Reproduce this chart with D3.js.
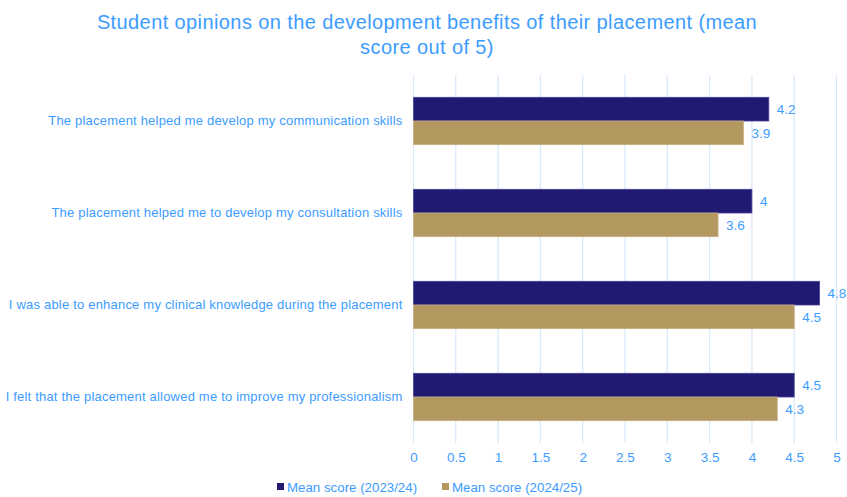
<!DOCTYPE html>
<html>
<head>
<meta charset="utf-8">
<script src="https://cdn.jsdelivr.net/npm/d3@7"></script>
<style>
  html, body { margin: 0; padding: 0; background: #ffffff; }
  svg { display: block; font-family: "Liberation Sans", Arial, sans-serif; }
</style>
</head>
<body>
<svg id="chart" width="847" height="497"></svg>
<script>
// Survey statements (top to bottom)
const categories = [
  "The placement helped me develop my communication skills",
  "The placement helped me to develop my consultation skills",
  "I was able to enhance my clinical knowledge during the placement",
  "I felt that the placement allowed me to improve my professionalism"
];
const seriesNames = ["Mean score (2023/24)", "Mean score (2024/25)"];
const scores2324 = [4.2, 4, 4.8, 4.5];
const scores2425 = [3.9, 3.6, 4.5, 4.3];
const xTicks = [0, 0.5, 1, 1.5, 2, 2.5, 3, 3.5, 4, 4.5, 5];
const titleLines = [
  "Student opinions on the development benefits of their placement (mean",
  "score out of 5)"
];

const colors = ["#211A73", "#B3985F"];
const strokes = ["#4A4396", "#C9B185"];
const textColor = "#3D9CFF";
const gridColor = "#D6E8FA";

const svg = d3.select("#chart");
const plot = { left: 413.5, right: 836.5, top: 75, bottom: 443 };

const x = d3.scaleLinear().domain([0, 5]).range([plot.left, plot.right]);
const y = d3.scaleBand().domain(categories).range([plot.top, plot.bottom]).paddingInner(0.485).paddingOuter(0.2425);
const ySub = d3.scaleBand().domain([0, 1]).range([0, y.bandwidth()]);

// Title
svg.append("g").selectAll("text").data(titleLines).join("text")
  .attr("x", 427).attr("y", (d, i) => 29 + i * 25)
  .attr("text-anchor", "middle")
  .attr("fill", textColor)
  .style("font-size", "20px")
  .style("letter-spacing", "0.4px")
  .text(d => d);

// Vertical gridlines
svg.append("g").selectAll("line").data(xTicks).join("line")
  .attr("x1", d => x(d)).attr("x2", d => x(d))
  .attr("y1", plot.top).attr("y2", plot.bottom)
  .attr("stroke", gridColor).attr("stroke-width", 1.2);

// X axis tick labels
const xAxis = svg.append("g")
  .attr("transform", `translate(0,${plot.bottom})`)
  .call(d3.axisBottom(x).tickValues(xTicks).tickSize(0).tickPadding(9).tickFormat(d3.format("")));
xAxis.select(".domain").remove();
xAxis.selectAll("text").attr("fill", textColor).style("font-size", "13.5px")
  .style("font-family", "Liberation Sans, Arial, sans-serif");

// Category labels
const yAxis = svg.append("g")
  .attr("transform", `translate(${plot.left},0)`)
  .call(d3.axisLeft(y).tickSize(0).tickPadding(11));
yAxis.select(".domain").remove();
yAxis.selectAll("text").attr("fill", textColor).style("font-size", "13px")
  .style("letter-spacing", "0.2px")
  .style("font-family", "Liberation Sans, Arial, sans-serif");

// Bars and value labels
const series = [scores2324, scores2425];
series.forEach((vals, si) => {
  const g = svg.append("g");
  g.selectAll("rect").data(vals).join("rect")
    .attr("x", x(0))
    .attr("y", (d, i) => y(categories[i]) + ySub(si))
    .attr("width", d => x(d) - x(0))
    .attr("height", ySub.bandwidth())
    .attr("fill", colors[si])
    .attr("stroke", strokes[si]).attr("stroke-width", 0.8);
  g.selectAll("text").data(vals).join("text")
    .attr("x", d => x(d) + 8)
    .attr("y", (d, i) => y(categories[i]) + ySub(si) + ySub.bandwidth() / 2)
    .attr("dy", "0.35em")
    .attr("fill", textColor)
    .style("font-size", "13.5px")
    .text(d => d3.format("")(d));
});

// Legend
const legendX = [277, 442];
const legend = svg.append("g");
seriesNames.forEach((name, i) => {
  legend.append("rect")
    .attr("x", legendX[i]).attr("y", 483)
    .attr("width", 7).attr("height", 7)
    .attr("fill", colors[i]);
  legend.append("text")
    .attr("x", legendX[i] + 10).attr("y", 487)
    .attr("dy", "0.35em")
    .attr("fill", textColor)
    .style("font-size", "13.3px")
    .text(name);
});
</script>
</body>
</html>
